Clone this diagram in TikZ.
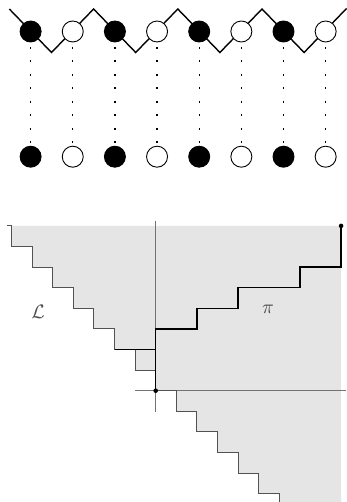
\documentclass[tikz,border=0pt]{standalone}
\begin{document}
\begin{tikzpicture}[x=1pt,y=-1pt,
  bdot/.style={circle,draw=black,fill=black,line width=0.9pt,minimum size=21pt,inner sep=0pt},
  wdot/.style={circle,draw=black,fill=white,line width=0.9pt,minimum size=21pt,inner sep=0pt},
  zig/.style={line width=1.4pt,line join=miter},
  link/.style={line width=1.3pt,dash pattern=on 2pt off 11.5pt,shorten <=4.5pt,shorten >=2.5pt},
  region/.style={fill=black!10},
  stair/.style={draw=black!68,line width=0.9pt},
  axis/.style={draw=black!55,line width=0.7pt},
  lpath/.style={draw=black,line width=1.5pt},
  enddot/.style={circle,fill=black,inner sep=0pt,minimum size=4.6pt},
  lab/.style={text=black!70,scale=1.95}]
\useasboundingbox (0,0) rectangle (346,502);

% ---------- upper part: zigzag with two rows of beads ----------
\draw[zig] (9.3,9) -- (51.5,52.5) -- (93.6,9) -- (135.7,52.5) -- (177.8,9)
  -- (219.9,52.5) -- (262,9) -- (304.1,52.5) -- (346.5,8.5);

\foreach \k/\s in {1/bdot,2/wdot,3/bdot,4/wdot,5/bdot,6/wdot,7/bdot,8/wdot}{
  \node[\s] (t\k) at ({30.6+42.15*(\k-1)},31.5) {};
  \node[\s] (b\k) at ({30.6+42.15*(\k-1)},156.7) {};
  \draw[link] (t\k) -- (b\k);
}

% ---------- lower part: staircase regions and the path ----------
\begin{scope}[shift={(155.7,390.7)},x=20.6pt,y=20.6pt]
  \coordinate (o) at (0,0);
  \coordinate (e) at (9,8);
  \fill[region] (-7,8) -- (9,8) -- (9,-5.4) -- (6,-5.4) -- (6,-5) -- (5,-5)
    -- (5,-4) -- (4,-4) -- (4,-3) -- (3,-3) -- (3,-2) -- (2,-2) -- (2,-1)
    -- (1,-1) -- (1,0) -- (0,0) -- (0,1) -- (-1,1) -- (-1,2) -- (-2,2)
    -- (-2,3) -- (-3,3) -- (-3,4) -- (-4,4) -- (-4,5) -- (-5,5) -- (-5,6)
    -- (-6,6) -- (-6,7) -- (-7,7) -- cycle;
  % axes through the corner point
  \draw[axis] (0,8.25) -- (0,-1.02);
  \draw[axis] (-1,0) -- (9.25,0);
  % boundary staircases
  \draw[stair] (-7.2,8) -- (-7,8) -- (-7,7) -- (-6,7) -- (-6,6) -- (-5,6)
    -- (-5,5) -- (-4,5) -- (-4,4) -- (-3,4) -- (-3,3) -- (-2,3) -- (-2,2);
  \draw[stair] (-1,2) -- (-1,1) -- (0,1);
  \draw[stair] (o) -- (1,0) -- (1,-1) -- (2,-1) -- (2,-2) -- (3,-2) -- (3,-3)
    -- (4,-3) -- (4,-4) -- (5,-4) -- (5,-5) -- (6,-5) -- (6,-5.4);
  % the lattice path
  \draw[lpath] (-2,2) -- (0,2);
  \draw[lpath] (o) -- (0,3) -- (2,3) -- (2,4) -- (4,4) -- (4,5) -- (7,5)
    -- (7,6) -- (9,6) -- (e);
  \node[enddot] (od) at (o) {};
  \node[enddot] (ed) at (e) {};
  \node[lab] (L) at (-5.71,3.85) {$\mathcal{L}$};
  \node[lab] (P) at (5.45,3.95) {$\pi$};
\end{scope}
\end{tikzpicture}
\end{document}
